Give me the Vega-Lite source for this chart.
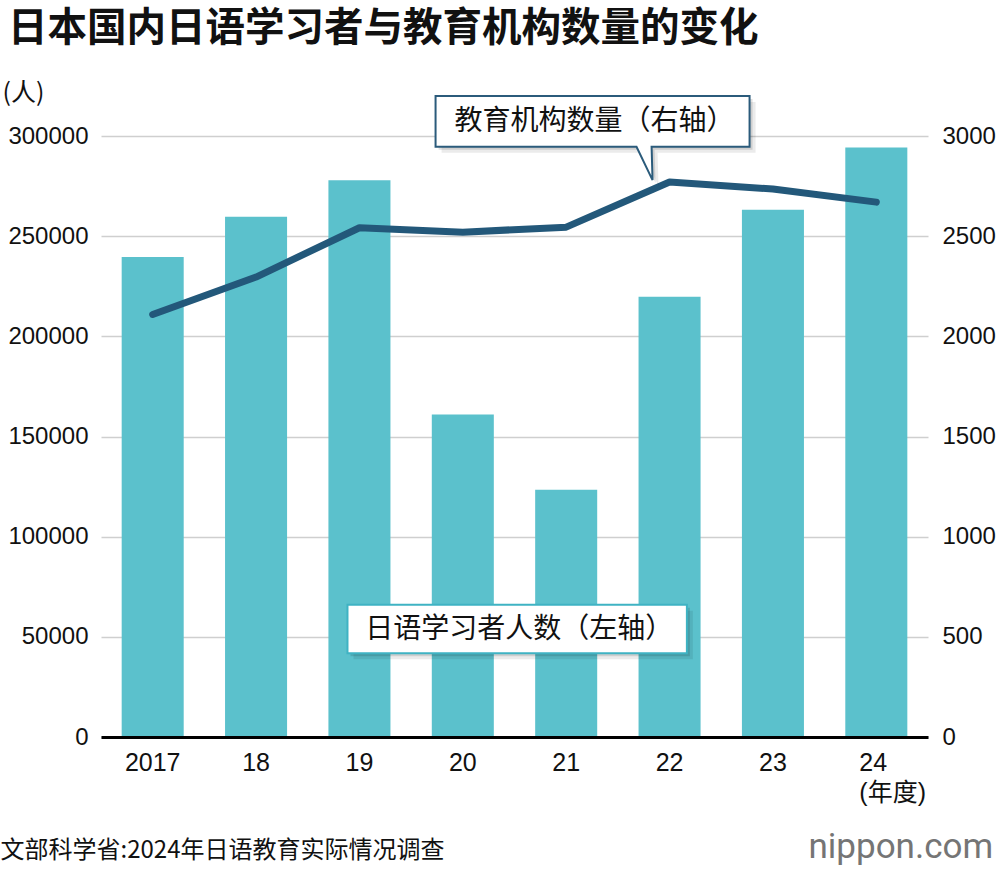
{
  "$schema": "https://vega.github.io/schema/vega-lite/v6.json",
  "width": 827,
  "height": 601,
  "autosize": {"type": "none"},
  "padding": {"left": 101, "top": 136, "right": 72, "bottom": 133},
  "background": "white",
  "config": {
    "view": {"stroke": null},
    "axis": {"labelFont": "Liberation Sans", "labelColor": "#111111", "titleColor": "#111111"}
  },
  "title": {
    "text": "日本国内日语学习者与教育机构数量的变化",
    "font": "Noto Sans CJK SC",
    "fontSize": 39.5,
    "fontWeight": "bold",
    "color": "#111111",
    "anchor": "start",
    "frame": "group",
    "dx": -93,
    "offset": 31
  },
  "data": {
    "values": [
      {"year": "2017", "learners": 239597, "institutions": 2109},
      {"year": "18", "learners": 259711, "institutions": 2296},
      {"year": "19", "learners": 277857, "institutions": 2542},
      {"year": "20", "learners": 160921, "institutions": 2520},
      {"year": "21", "learners": 123408, "institutions": 2545},
      {"year": "22", "learners": 219808, "institutions": 2770},
      {"year": "23", "learners": 263170, "institutions": 2735},
      {"year": "24", "learners": 294198, "institutions": 2670}
    ]
  },
  "encoding": {
    "x": {
      "field": "year",
      "type": "ordinal",
      "sort": null,
      "scale": {"type": "band", "paddingInner": 0.4, "paddingOuter": 0.2},
      "axis": {
        "title": "文部科学省:2024年日语教育实际情况调查",
        "titleFont": "Noto Sans CJK SC",
        "titleFontSize": 24,
        "titleFontWeight": "normal",
        "titleAlign": "left",
        "titleBaseline": "middle",
        "titleX": -101,
        "titleY": 113,
        "labelExpr": "datum.value == '24' ? ['24', '(年度)'] : datum.label",
        "labelFont": "Liberation Sans, Noto Sans CJK SC",
        "labelFontSize": 25,
        "labelAngle": 0,
        "labelPadding": 13,
        "labelLineHeight": 30,
        "labelAlign": {"condition": {"test": "datum.value == '24'", "value": "left"}, "value": "center"},
        "labelOffset": {"condition": {"test": "datum.value == '24'", "value": -17}, "value": 0},
        "ticks": false,
        "domainColor": "#000000",
        "domainWidth": 3,
        "zindex": 1
      }
    }
  },
  "layer": [
    {
      "encoding": {
        "y": {
          "field": "learners",
          "type": "quantitative",
          "scale": {"domain": [0, 300000], "nice": false},
          "axis": {
            "orient": "left",
            "values": [0, 50000, 100000, 150000, 200000, 250000, 300000],
            "format": "d",
            "labelFontSize": 24,
            "labelPadding": 13,
            "ticks": false,
            "domain": false,
            "grid": true,
            "gridColor": "#cfcfcf",
            "gridWidth": 1.5,
            "title": "(人)",
            "titleFont": "Noto Sans CJK SC",
            "titleFontSize": 25,
            "titleFontWeight": "normal",
            "titleAngle": 0,
            "titleAlign": "left",
            "titleBaseline": "middle",
            "titleX": -99,
            "titleY": -44
          }
        }
      },
      "layer": [
        {"mark": {"type": "bar", "color": "#5bc1cc"}},
        {
          "transform": [{"filter": "datum.year == '21'"}],
          "mark": {"type": "point", "shape": "M-1,-0.1423L1,-0.1423L1,0.1423L-1,0.1423Z", "size": 115192, "filled": true, "fill": "#000000", "strokeWidth": 0, "opacity": 0.08, "xOffset": -43, "yOffset": -102},
          "encoding": {"y": {"datum": 0}}
        },
        {
          "transform": [{"filter": "datum.year == '21'"}],
          "mark": {"type": "point", "shape": "M-1,-0.1423L1,-0.1423L1,0.1423L-1,0.1423Z", "size": 115192, "filled": true, "fill": "#000000", "strokeWidth": 0, "opacity": 0.12, "xOffset": -46, "yOffset": -105},
          "encoding": {"y": {"datum": 0}}
        },
        {
          "transform": [{"filter": "datum.year == '21'"}],
          "mark": {"type": "point", "shape": "M-1,-0.1423L1,-0.1423L1,0.1423L-1,0.1423Z", "size": 115192, "filled": true, "fill": "#ffffff", "stroke": "#3fb3c3", "strokeWidth": 2, "opacity": 1, "xOffset": -49, "yOffset": -108},
          "encoding": {"y": {"datum": 0}}
        },
        {
          "transform": [{"filter": "datum.year == '21'"}],
          "mark": {"type": "text", "text": "日语学习者人数（左轴）", "font": "Noto Sans CJK SC", "fontSize": 28, "color": "#111111", "align": "center", "baseline": "middle", "dx": -47, "dy": -107},
          "encoding": {"y": {"datum": 0}}
        }
      ]
    },
    {
      "encoding": {
        "y": {
          "field": "institutions",
          "type": "quantitative",
          "scale": {"domain": [0, 3000], "nice": false},
          "axis": {
            "orient": "right",
            "values": [0, 500, 1000, 1500, 2000, 2500, 3000],
            "format": "d",
            "labelFontSize": 24,
            "labelPadding": 14,
            "ticks": false,
            "domain": false,
            "grid": false,
            "title": "nippon.com",
            "titleFont": "Roboto",
            "titleFontSize": 35,
            "titleFontWeight": "normal",
            "titleColor": "#757575",
            "titleAngle": 0,
            "titleAlign": "left",
            "titleBaseline": "alphabetic",
            "titleX": -120,
            "titleY": 721
          }
        }
      },
      "layer": [
        {"mark": {"type": "line", "color": "#23587a", "strokeWidth": 7, "strokeCap": "round", "strokeJoin": "round"}},
        {
          "transform": [{"filter": "datum.year == '22'"}],
          "mark": {"type": "point", "shape": "M-1,-0.1615L1,-0.1615L1,0.1615L0.376,0.1615L0.382,0.374L0.28,0.1615L-1,0.1615Z", "size": 98596, "filled": true, "fill": "#000000", "strokeWidth": 0, "opacity": 0.08, "xOffset": -71, "yOffset": -54.7}
        },
        {
          "transform": [{"filter": "datum.year == '22'"}],
          "mark": {"type": "point", "shape": "M-1,-0.1615L1,-0.1615L1,0.1615L0.376,0.1615L0.382,0.374L0.28,0.1615L-1,0.1615Z", "size": 98596, "filled": true, "fill": "#000000", "strokeWidth": 0, "opacity": 0.12, "xOffset": -74, "yOffset": -57.7}
        },
        {
          "transform": [{"filter": "datum.year == '22'"}],
          "mark": {"type": "point", "shape": "M-1,-0.1615L1,-0.1615L1,0.1615L0.376,0.1615L0.382,0.374L0.28,0.1615L-1,0.1615Z", "size": 98596, "filled": true, "fill": "#ffffff", "stroke": "#2b5b7b", "strokeWidth": 2, "opacity": 1, "xOffset": -77, "yOffset": -60.7}
        },
        {
          "transform": [{"filter": "datum.year == '22'"}],
          "mark": {"type": "text", "text": "教育机构数量（右轴）", "font": "Noto Sans CJK SC", "fontSize": 28, "color": "#111111", "align": "center", "baseline": "middle", "dx": -75, "dy": -60}
        }
      ]
    }
  ],
  "resolve": {"scale": {"y": "independent"}}
}
